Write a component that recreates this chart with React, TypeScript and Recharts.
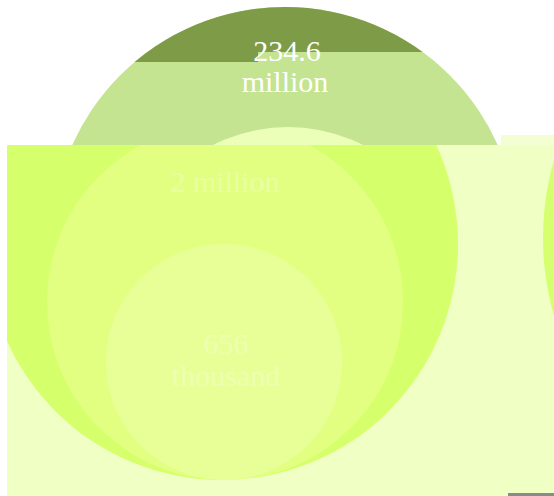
import React from "react";
import { ScatterChart, Scatter, XAxis, YAxis, ReferenceArea } from "recharts";

// ---- chart frame (axes domains equal the plot size, so one data unit = one pixel)
const CHART_W = 554;
const CHART_H = 496;
const X_DOMAIN: [number, number] = [0, 554];
const Y_DOMAIN: [number, number] = [0, 496];

// ---- data: labels of the bubbles
const bubbleLabels = ["234.6 million", "2 million", "656 thousand"];

// upper panel (original bubbles): centre x, centre y, radius
const upperBubbles = [
  { key: "upperOuter", x: 285, y: 240, r: 233 },
  { key: "upperMiddle", x: 288, y: 292, r: 165 },
  { key: "upperOuterDark", x: 285, y: 240, r: 233 },
];

// lower panel (shifted copy of the bubbles)
const lowerBubbles = [
  { key: "lowerOuter", x: 222, y: 244, r: 236 },
  { key: "lowerMiddle", x: 225, y: 302, r: 178 },
  { key: "lowerInner", x: 224, y: 362, r: 118 },
  { key: "edge", x: 825, y: 238, r: 282 },
];

// text lines of the labels
const labelPoints = [
  { key: "top", text: "234.6", x: 287, y: 61 },
  { key: "top", text: "million", x: 285, y: 92 },
  { key: "faint", text: "2 million", x: 225, y: 192 },
  { key: "faint", text: "656", x: 226, y: 354 },
  { key: "faint", text: "thousand", x: 226, y: 386 },
];

// regions (data units)
const upperPanel = { x1: 0, x2: 554, y1: 0, y2: 145 };
const lowerPanel = { x1: 7, x2: 554, y1: 145, y2: 496 };
const darkBands = [
  { x1: 0, x2: 258, y1: 0, y2: 62 },
  { x1: 258, x2: 554, y1: 0, y2: 52 },
];
const stripBand = { x1: 501, x2: 554, y1: 135, y2: 145 };
const ruleBand = { x1: 508, x2: 554, y1: 493, y2: 496 };

// ---- styles
const bubbleStyle: Record<string, { fill: string; clip: string }> = {
  upperOuter: { fill: "#c4e491", clip: "clipUpper" },
  upperMiddle: { fill: "#ebffb8", clip: "clipUpper" },
  upperOuterDark: { fill: "#7e9c48", clip: "clipDark" },
  lowerOuter: { fill: "#d5ff6b", clip: "clipLower" },
  lowerMiddle: { fill: "#e3ff82", clip: "clipLower" },
  lowerInner: { fill: "#e8ff97", clip: "clipLower" },
  edge: { fill: "#d6ff70", clip: "clipLower" },
};
const labelStyle: Record<string, { fill: string; opacity: number }> = {
  top: { fill: "#ffffff", opacity: 1 },
  faint: { fill: "#ffffff", opacity: 0.26 },
};
const lowerBase = "#f0ffc3";
const stripFill = "#f3ffd2";
const ruleFill = "#8a8a8a";

// linear maps identical to the hidden axes
const sx = (v: number) => ((v - X_DOMAIN[0]) / (X_DOMAIN[1] - X_DOMAIN[0])) * CHART_W;
const sy = (v: number) => ((v - Y_DOMAIN[0]) / (Y_DOMAIN[1] - Y_DOMAIN[0])) * CHART_H;
const rectOf = (b: { x1: number; x2: number; y1: number; y2: number }, k: number) => (
  <rect key={k} x={sx(b.x1)} y={sy(b.y1)} width={sx(b.x2) - sx(b.x1)} height={sy(b.y2) - sy(b.y1)} />
);

const BubbleShape = (props: any) => {
  const { cx, cy, payload } = props;
  const st = bubbleStyle[payload.key];
  const r = sx(payload.r) - sx(0);
  return <circle cx={cx} cy={cy} r={r} fill={st.fill} clipPath={`url(#${st.clip})`} />;
};

const LabelShape = (props: any) => {
  const { cx, cy, payload } = props;
  const st = labelStyle[payload.key];
  return (
    <text
      x={cx}
      y={cy}
      textAnchor="middle"
      fontFamily="'Liberation Serif', 'DejaVu Serif', serif"
      fontSize={30}
      fill={st.fill}
      fillOpacity={st.opacity}
    >
      {payload.text}
    </text>
  );
};

export default function App() {
  return (
    <div style={{ position: "absolute", left: 0, top: 0, width: CHART_W, height: CHART_H, background: "#ffffff" }}>
      <svg width={0} height={0} style={{ position: "absolute" }} aria-hidden="true">
        <defs>
          <clipPath id="clipUpper" clipPathUnits="userSpaceOnUse">{rectOf(upperPanel, 0)}</clipPath>
          <clipPath id="clipLower" clipPathUnits="userSpaceOnUse">{rectOf(lowerPanel, 0)}</clipPath>
          <clipPath id="clipDark" clipPathUnits="userSpaceOnUse">{darkBands.map((b, i) => rectOf(b, i))}</clipPath>
        </defs>
      </svg>
      <ScatterChart width={CHART_W} height={CHART_H} margin={{ top: 0, right: 0, bottom: 0, left: 0 }}>
        <XAxis type="number" dataKey="x" domain={X_DOMAIN} hide allowDataOverflow />
        <YAxis type="number" dataKey="y" domain={Y_DOMAIN} reversed hide allowDataOverflow />
        <Scatter name="upper" data={upperBubbles} shape={BubbleShape} isAnimationActive={false} />
        <ReferenceArea x1={lowerPanel.x1} x2={lowerPanel.x2} y1={lowerPanel.y1} y2={lowerPanel.y2} fill={lowerBase} fillOpacity={1} stroke="none" ifOverflow="hidden" />
        <ReferenceArea x1={stripBand.x1} x2={stripBand.x2} y1={stripBand.y1} y2={stripBand.y2} fill={stripFill} fillOpacity={1} stroke="none" />
        <ReferenceArea x1={ruleBand.x1} x2={ruleBand.x2} y1={ruleBand.y1} y2={ruleBand.y2} fill={ruleFill} fillOpacity={1} stroke="none" />
        <Scatter name="lower" data={lowerBubbles} shape={BubbleShape} isAnimationActive={false} />
        <Scatter name={bubbleLabels.join(" / ")} data={labelPoints} shape={LabelShape} isAnimationActive={false} />
      </ScatterChart>
    </div>
  );
}
